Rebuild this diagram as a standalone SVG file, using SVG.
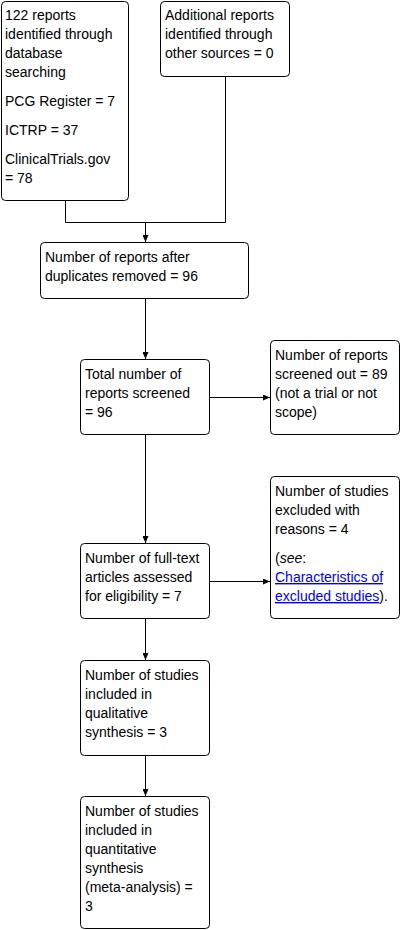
<svg xmlns="http://www.w3.org/2000/svg" width="402" height="930" viewBox="0 0 402 930">
<style>
.box{fill:#fff;stroke:#000;stroke-width:1}
text{font-family:"Liberation Sans",Arial,sans-serif;font-size:14px;fill:#000}
.ln{fill:none;stroke:#000;stroke-width:1}
.lk{fill:#0000ff;text-decoration:underline}
</style>
<defs>
<marker id="ah" markerUnits="userSpaceOnUse" markerWidth="7" markerHeight="6" refX="7" refY="3" orient="auto">
<path d="M0,0 L7,3 L0,6 z" fill="#000"/>
</marker>
</defs>
<rect width="402" height="930" fill="#fff"/>
<g id="connectors">
<polyline class="ln" points="65.5,201 65.5,222.5 225.5,222.5 225.5,77"/>
<line class="ln" x1="145.5" y1="222.5" x2="145.5" y2="242" marker-end="url(#ah)"/>
<line class="ln" x1="145.5" y1="299" x2="145.5" y2="359" marker-end="url(#ah)"/>
<line class="ln" x1="210" y1="397.5" x2="270" y2="397.5" marker-end="url(#ah)"/>
<line class="ln" x1="145.5" y1="435" x2="145.5" y2="543" marker-end="url(#ah)"/>
<line class="ln" x1="210" y1="581.5" x2="270" y2="581.5" marker-end="url(#ah)"/>
<line class="ln" x1="145.5" y1="619" x2="145.5" y2="660" marker-end="url(#ah)"/>
<line class="ln" x1="145.5" y1="756" x2="145.5" y2="796" marker-end="url(#ah)"/>
</g>
<g id="n1">
<rect class="box" x="1.5" y="1.5" width="127" height="199" rx="4"/>
<text x="5" y="20">122 reports</text>
<text x="5" y="39">identified through</text>
<text x="5" y="58">database</text>
<text x="5" y="77">searching</text>
<text x="5" y="106">PCG Register = 7</text>
<text x="5" y="135">ICTRP = 37</text>
<text x="5" y="164">ClinicalTrials.gov</text>
<text x="5" y="183">= 78</text>
</g>
<g id="n2">
<rect class="box" x="160.5" y="1.5" width="129" height="75" rx="4"/>
<text x="165" y="20">Additional reports</text>
<text x="165" y="39">identified through</text>
<text x="165" y="58">other sources = 0</text>
</g>
<g id="n3">
<rect class="box" x="40.5" y="242.5" width="208" height="56" rx="4"/>
<text x="45" y="262">Number of reports after</text>
<text x="45" y="281">duplicates removed = 96</text>
</g>
<g id="n4">
<rect class="box" x="80.5" y="359.5" width="129" height="75" rx="4"/>
<text x="85" y="379">Total number of</text>
<text x="85" y="398">reports screened</text>
<text x="85" y="417">= 96</text>
</g>
<g id="n5">
<rect class="box" x="270.5" y="340.5" width="129" height="94" rx="4"/>
<text x="275" y="360">Number of reports</text>
<text x="275" y="379">screened out = 89</text>
<text x="275" y="398">(not a trial or not</text>
<text x="275" y="417">scope)</text>
</g>
<g id="n6">
<rect class="box" x="270.5" y="476.5" width="129" height="142" rx="4"/>
<text x="275" y="496">Number of studies</text>
<text x="275" y="515">excluded with</text>
<text x="275" y="534">reasons = 4</text>
<text x="275" y="563">(<tspan font-style="italic">see</tspan>:</text>
<text x="275" y="582"><tspan class="lk">Characteristics of</tspan></text>
<text x="275" y="601"><tspan class="lk">excluded studies</tspan>).</text>
</g>
<g id="n7">
<rect class="box" x="80.5" y="543.5" width="129" height="75" rx="4"/>
<text x="85" y="563">Number of full-text</text>
<text x="85" y="582">articles assessed</text>
<text x="85" y="601">for eligibility = 7</text>
</g>
<g id="n8">
<rect class="box" x="80.5" y="660.5" width="129" height="95" rx="4"/>
<text x="85" y="680">Number of studies</text>
<text x="85" y="699">included in</text>
<text x="85" y="718">qualitative</text>
<text x="85" y="737">synthesis = 3</text>
</g>
<g id="n9">
<rect class="box" x="80.5" y="796.5" width="129" height="132" rx="4"/>
<text x="85" y="816">Number of studies</text>
<text x="85" y="835">included in</text>
<text x="85" y="854">quantitative</text>
<text x="85" y="873">synthesis</text>
<text x="85" y="892">(meta-analysis) =</text>
<text x="85" y="911">3</text>
</g>
</svg>
